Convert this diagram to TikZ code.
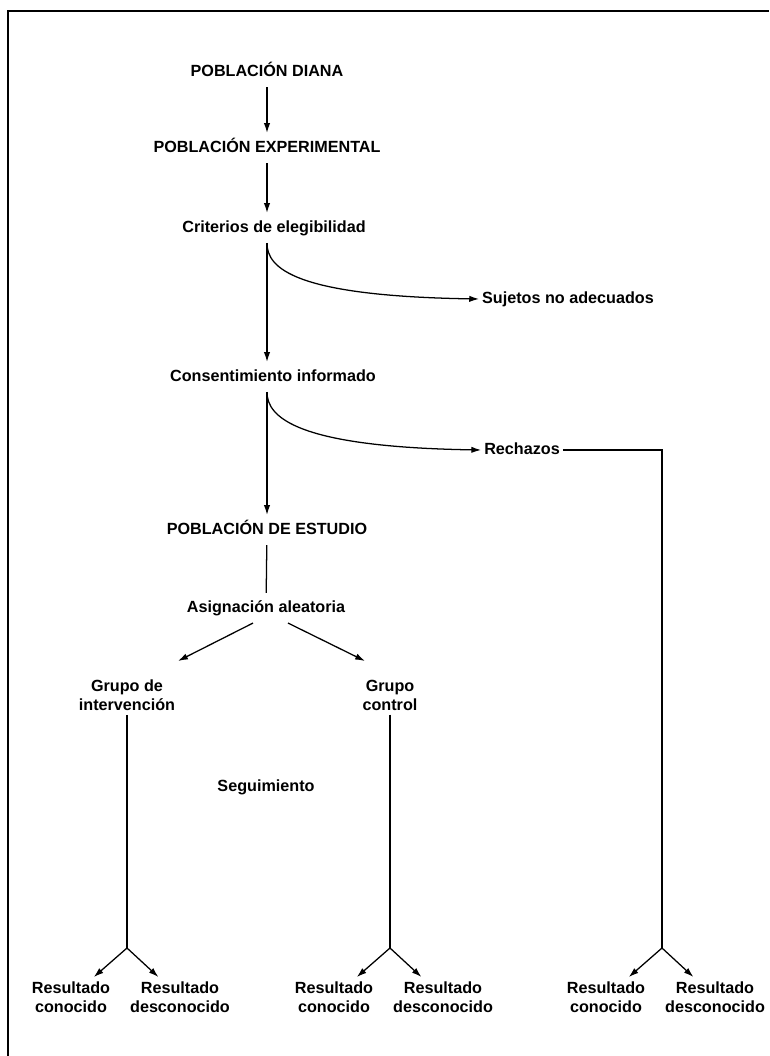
\documentclass[tikz,border=0pt]{standalone}
\usepackage{fontspec}
\setmainfont{Liberation Sans}
\usetikzlibrary{arrows.meta,calc}

\tikzset{
  lbl/.style={font=\bfseries\fontsize{11.5}{13.5}\selectfont, inner xsep=2pt, inner ysep=5pt, text height=8.5pt, text depth=2.5pt},
  lbltwo/.style={font=\bfseries\fontsize{11.5}{13.5}\selectfont, align=center, inner sep=3pt},
  flow/.style={line width=0.9pt},
  arr/.style={flow, -{Latex[length=7pt,width=4.5pt]}},
}

\begin{document}
\begin{tikzpicture}[x=0.025cm, y=-0.025cm]
  \useasboundingbox (0,0) rectangle (769,1056);
  % frame, open on the right and at the bottom
  \draw[line width=2pt] (8,1056) -- (8,11) -- (769,11);

  \node[lbl] (diana) at (267,72) {POBLACIÓN DIANA};
  \node[lbl] (experimental) at (267,148) {POBLACIÓN EXPERIMENTAL};
  \node[lbl] (criterios) at (274,228) {Criterios de elegibilidad};
  \node[lbl] (sujetos) at (568,299) {Sujetos no adecuados};
  \node[lbl] (consentimiento) at (273,377) {Consentimiento informado};
  \node[lbl] (rechazos) at (522,450) {Rechazos};
  \node[lbl] (estudio) at (267,530) {POBLACIÓN DE ESTUDIO};
  \node[lbl] (asignacion) at (266,608) {Asignación aleatoria};
  \node[lbltwo] (intervencion) at (127,695) {Grupo de\\intervención};
  \node[lbltwo] (control) at (390,695) {Grupo\\control};
  \node[lbl] (seguimiento) at (266,787) {Seguimiento};

  % outcome fans at the foot of each branch
  \foreach \s/\x in {1/127, 2/390, 3/662} {
    \coordinate (split\s) at (\x,948);
    \node[lbltwo] (conocido\s) at (\x-56,997) {Resultado\\conocido};
    \node[lbltwo] (desconocido\s) at (\x+53,997) {Resultado\\desconocido};
    \path[arr] (split\s) edge (conocido\s) edge (desconocido\s);
  }

  \coordinate (b1) at (diana |- criterios.south);
  \coordinate (b2) at (diana |- consentimiento.south);

  \path[arr] (diana) edge (experimental);
  \draw[arr] (experimental) -- (experimental |- criterios.north);
  \draw[arr] (b1) -- (b1 |- consentimiento.north);
  \draw[arr] (b1) .. controls +(0,25) and +(-185,-3) .. (sujetos.west);
  \draw[arr] (b2) -- (estudio);
  \draw[arr] (b2) .. controls +(0,25) and +(-185,-3) .. (rechazos.west);
  \draw[flow] (estudio) -- (asignacion);
  \draw[arr] ($(asignacion.south)+(-13,0)$) -- ($(intervencion)+(51,-34)$);
  \draw[arr] ($(asignacion.south)+(22,0)$) -- ($(control)+(-25,-34)$);
  \draw[flow] (intervencion) -- (split1);
  \draw[flow] (control) -- (split2);
  \draw[flow] (rechazos.east) -| (split3);
\end{tikzpicture}
\end{document}
